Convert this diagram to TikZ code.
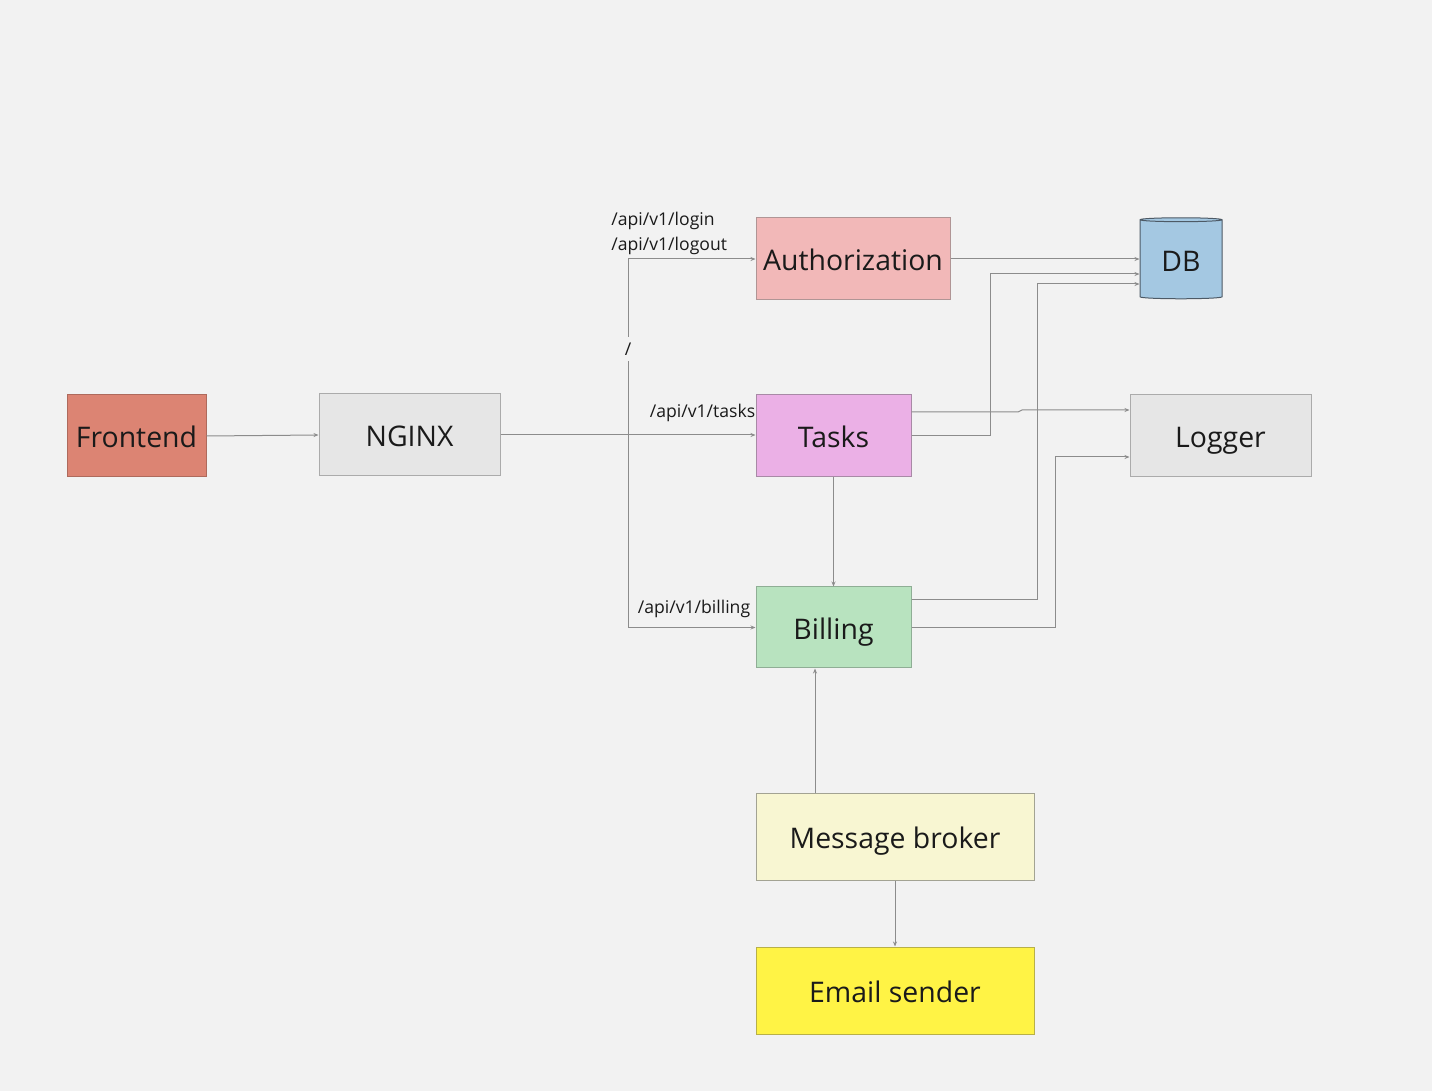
\documentclass[tikz,border=0pt]{standalone}
\usepackage{fontspec}
\setmainfont{Open Sans}
\usetikzlibrary{arrows.meta,shapes.geometric}
\definecolor{bg}{HTML}{F2F2F2}
\definecolor{ink}{HTML}{1A1A1A}
\definecolor{wire}{HTML}{8C8C8C}
\definecolor{frontfill}{HTML}{DC8473}\definecolor{frontline}{HTML}{AE6A5C}
\definecolor{greyfill}{HTML}{E6E6E6}\definecolor{greyline}{HTML}{ABABAB}
\definecolor{authfill}{HTML}{F2B8B8}\definecolor{authline}{HTML}{B09595}
\definecolor{tasksfill}{HTML}{EBB0E6}\definecolor{tasksline}{HTML}{A88AA6}
\definecolor{billfill}{HTML}{B8E3BF}\definecolor{billline}{HTML}{8FAE95}
\definecolor{brokerfill}{HTML}{F8F6D2}\definecolor{brokerline}{HTML}{A3A393}
\definecolor{emailfill}{HTML}{FFF345}\definecolor{emailline}{HTML}{B8B048}
\definecolor{dbfill}{HTML}{A4C8E2}\definecolor{dbline}{HTML}{4D5A66}
\begin{document}
\begin{tikzpicture}[x=0.5pt, y=-0.5pt,
  every node/.style = {text=ink},
  box/.style = {shape=rectangle, draw, align=center, line width=0.5pt,
    font=\fontsize{14.2}{16}\selectfont, text height=12pt, text depth=0pt, minimum height=41pt},
  route/.style = {font=\fontsize{8.8}{12.5}\selectfont, inner sep=0pt, align=left},
  conn/.style = {draw=wire, line width=0.5pt, -{Stealth[length=2.5pt,width=2pt]}}]
  \fill[bg] (0,0) rectangle (1432,1091);
  \useasboundingbox (0,0) rectangle (1432,1091);
  \node[box, fill=frontfill, draw=frontline, minimum width=69.5pt] (front) at (136.5,436) {Frontend};
  \node[box, fill=greyfill, draw=greyline, minimum width=90.5pt] (nginx) at (409.5,435) {NGINX};
  \node[box, fill=authfill, draw=authline, minimum width=97pt] (auth) at (853,259) {Authorization};
  \node[box, fill=tasksfill, draw=tasksline, minimum width=77.5pt] (tasks) at (833.5,436) {Tasks};
  \node[box, fill=billfill, draw=billline, minimum width=77.5pt, minimum height=40.5pt] (billing) at (833.5,627.5) {Billing};
  \node[box, fill=greyfill, draw=greyline, minimum width=90.5pt] (logger) at (1220.5,436) {Logger};
  \node[box, fill=brokerfill, draw=brokerline, minimum width=139pt, minimum height=43.5pt] (broker) at (895,836.5) {Message broker};
  \node[box, fill=emailfill, draw=emailline, minimum width=139pt, minimum height=43.5pt] (email) at (895,990.5) {Email sender};
  \node[cylinder, shape border rotate=90, aspect=0.1, draw=dbline, fill=dbfill,
    line width=0.5pt, minimum width=41pt, minimum height=40.5pt, inner sep=0pt,
    font=\fontsize{14.2}{16}\selectfont, text height=12pt, text depth=0pt] (db) at (1181,259.5) {DB};

  \coordinate (split) at (628,435);
  \draw[conn] (front.east) -- (nginx.west);
  \draw[draw=wire, line width=0.5pt] (nginx.east) -- (split);
  \draw[conn] (split) |- (auth.west);
  \draw[conn] (split) -- (tasks.west |- split);
  \draw[conn] (split) |- (billing.west);
  \node[route, fill=bg, inner ysep=3pt] (slash) at (628,349) {/};
  \node[route, anchor=west] (lauth) at (611,233.5) {/api/v1/login\\/api/v1/logout};
  \node[route] (ltasks) at (702.5,413) {/api/v1/tasks};
  \node[route] (lbilling) at (694,609) {/api/v1/billing};

  \draw[conn] (auth.east) -- (db.west |- auth.east);
  \draw[conn] (tasks.east) -- (990,436) |- (db.west |- 0,274);
  \draw[conn] (billing.east |- 0,600) -- (1037,600) |- (db.west |- 0,284);
  \draw[conn] (tasks.east |- 0,412) -- (1018,412) -- (1022,410) -- (logger.west |- 0,410);
  \draw[conn] (billing.east) -- (1055,627.5) |- (logger.west |- 0,457);
  \draw[conn] (tasks.south) -- (billing.north);
  \draw[conn] (broker.north -| 815,0) -- (billing.south -| 815,0);
  \draw[conn] (broker.south) -- (email.north);
\end{tikzpicture}
\end{document}
